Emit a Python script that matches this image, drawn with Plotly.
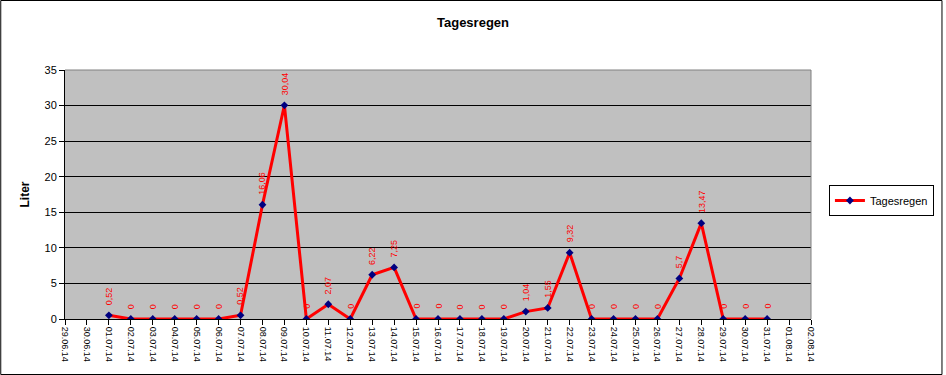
import plotly.graph_objects as go

dates = ["29.06.14", "30.06.14", "01.07.14", "02.07.14", "03.07.14", "04.07.14", "05.07.14",
         "06.07.14", "07.07.14", "08.07.14", "09.07.14", "10.07.14", "11.07.14", "12.07.14",
         "13.07.14", "14.07.14", "15.07.14", "16.07.14", "17.07.14", "18.07.14", "19.07.14",
         "20.07.14", "21.07.14", "22.07.14", "23.07.14", "24.07.14", "25.07.14", "26.07.14",
         "27.07.14", "28.07.14", "29.07.14", "30.07.14", "31.07.14", "01.08.14", "02.08.14"]

rain_dates = ["01.07.14", "02.07.14", "03.07.14", "04.07.14", "05.07.14", "06.07.14",
              "07.07.14", "08.07.14", "09.07.14", "10.07.14", "11.07.14", "12.07.14",
              "13.07.14", "14.07.14", "15.07.14", "16.07.14", "17.07.14", "18.07.14",
              "19.07.14", "20.07.14", "21.07.14", "22.07.14", "23.07.14", "24.07.14",
              "25.07.14", "26.07.14", "27.07.14", "28.07.14", "29.07.14", "30.07.14",
              "31.07.14"]
rain = [0.52, 0, 0, 0, 0, 0, 0.52, 16.06, 30.04, 0, 2.07, 0, 6.22, 7.25, 0, 0, 0, 0, 0,
        1.04, 1.55, 9.32, 0, 0, 0, 0, 5.7, 13.47, 0, 0, 0]

xs = [dates.index(d) for d in rain_dates]

W, H = 946, 375
ml, mr, mt, mb = 65, 132, 70, 56
pw, ph = W - ml - mr, H - mt - mb

fig = go.Figure()
fig.add_trace(go.Scatter(
    x=xs, y=rain, mode="lines+markers", name="Tagesregen",
    line=dict(color="#FF0000", width=3),
    marker=dict(symbol="diamond", size=6, color="#000080"),
))

def fmt(v):
    return ("%g" % v).replace(".", ",")

for x, v in zip(xs, rain):
    fig.add_annotation(x=x, y=v, text=fmt(v), textangle=-90, showarrow=False,
                       yanchor="bottom", yshift=8,
                       font=dict(family="Arial", size=9, color="#FF0000"))

fig.add_shape(type="rect", xref="paper", yref="paper",
              x0=(0.5 - ml) / pw, x1=(W - 0.5 - ml) / pw,
              y0=(H - mb - (H - 0.5)) / ph, y1=(H - mb - 0.5) / ph,
              line=dict(color="black", width=1), fillcolor="rgba(0,0,0,0)", layer="above")

fig.update_layout(
    width=W, height=H,
    margin=dict(l=ml, r=mr, t=mt, b=mb),
    paper_bgcolor="white", plot_bgcolor="#C0C0C0",
    title=dict(text="<b>Tagesregen</b>", x=473 / W, xanchor="center", y=1 - 22 / H, yanchor="middle",
               font=dict(family="Arial", size=13, color="black")),
    font=dict(family="Arial", color="black"),
    showlegend=True,
    legend=dict(x=(832 - ml) / pw, y=(H - mb - 185) / ph, xanchor="left", yanchor="top",
                bordercolor="black", borderwidth=1, bgcolor="white",
                font=dict(family="Arial", size=11, color="black"),
                itemwidth=30, tracegroupgap=0),
    xaxis=dict(range=[0, len(dates) - 1], tickmode="array", tickvals=list(range(len(dates))),
               ticktext=dates, tickangle=90, ticks="outside", ticklen=5, tickcolor="black",
               showgrid=False, zeroline=False, showline=True, linecolor="black", linewidth=1,
               tickfont=dict(family="Arial", size=9, color="black"), automargin=False),
    yaxis=dict(range=[0, 35], dtick=5, ticks="outside", ticklen=5, tickcolor="black",
               showgrid=True, gridcolor="black", gridwidth=1, zeroline=False,
               showline=True, linecolor="black", linewidth=1, automargin=False,
               tickfont=dict(family="Arial", size=11, color="black"),
               title=dict(text="<b>Liter</b>", font=dict(family="Arial", size=12, color="black"),
                          standoff=12)),
)

fig.add_shape(type="line", xref="paper", yref="paper", x0=0, x1=1, y0=1, y1=1,
              line=dict(color="#808080", width=1))
fig.add_shape(type="line", xref="paper", yref="paper", x0=1, x1=1, y0=0, y1=1,
              line=dict(color="#808080", width=1))

fig.write_html("out.html", config={"displayModeBar": False},
               post_script="document.body.style.margin='0';document.body.style.padding='0';document.body.style.overflow='hidden';")
